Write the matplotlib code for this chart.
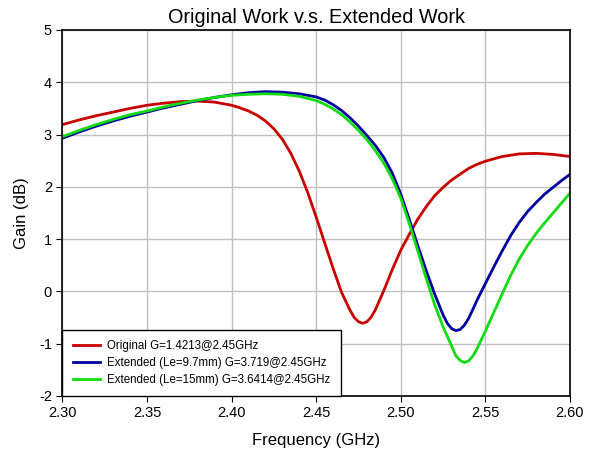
import matplotlib
matplotlib.use("Agg")
import matplotlib.pyplot as plt
from matplotlib.ticker import FormatStrFormatter

plt.rcParams['font.family'] = ['Liberation Sans', 'DejaVu Sans']
plt.rcParams['axes.unicode_minus'] = False

# values
freq_red = [2.30, 2.31, 2.32, 2.33, 2.34, 2.35, 2.36, 2.37, 2.38, 2.39, 2.40,
            2.405, 2.41, 2.415, 2.42, 2.425, 2.43, 2.435, 2.44, 2.445, 2.45,
            2.455, 2.46, 2.465, 2.47, 2.4725, 2.475, 2.4775, 2.48, 2.4825,
            2.485, 2.49, 2.495, 2.50, 2.505, 2.51, 2.515, 2.52, 2.525, 2.53,
            2.535, 2.54, 2.545, 2.55, 2.56, 2.57, 2.58, 2.59, 2.60]
gain_red = [3.19, 3.28, 3.36, 3.43, 3.50, 3.56, 3.60, 3.63, 3.64, 3.62, 3.56,
            3.51, 3.45, 3.37, 3.26, 3.11, 2.91, 2.64, 2.30, 1.89, 1.42,
            0.93, 0.44, -0.02, -0.36, -0.50, -0.58, -0.61, -0.58, -0.49,
            -0.35, 0.02, 0.42, 0.79, 1.09, 1.38, 1.62, 1.83, 1.99, 2.13,
            2.24, 2.35, 2.43, 2.49, 2.58, 2.63, 2.64, 2.62, 2.58]

freq_blue = [2.30, 2.31, 2.32, 2.33, 2.34, 2.35, 2.36, 2.37, 2.38, 2.39, 2.40,
             2.41, 2.42, 2.43, 2.44, 2.45, 2.455, 2.46, 2.465, 2.47, 2.475,
             2.48, 2.485, 2.49, 2.495, 2.50, 2.505, 2.51, 2.515, 2.52, 2.525,
             2.5275, 2.53, 2.5325, 2.535, 2.5375, 2.54, 2.5425, 2.545, 2.55,
             2.555, 2.56, 2.565, 2.57, 2.575, 2.58, 2.585, 2.59, 2.595, 2.60]
gain_blue = [2.93, 3.05, 3.16, 3.26, 3.35, 3.43, 3.51, 3.58, 3.65, 3.71, 3.76,
             3.80, 3.82, 3.81, 3.78, 3.72, 3.66, 3.57, 3.46, 3.32, 3.16,
             2.98, 2.79, 2.56, 2.26, 1.86, 1.38, 0.88, 0.40, -0.05, -0.45,
             -0.61, -0.71, -0.75, -0.73, -0.65, -0.52, -0.35, -0.17, 0.15,
             0.47, 0.78, 1.07, 1.32, 1.53, 1.70, 1.86, 1.99, 2.12, 2.24]

freq_green = [2.30, 2.31, 2.32, 2.33, 2.34, 2.35, 2.36, 2.37, 2.38, 2.39, 2.40,
              2.41, 2.42, 2.43, 2.44, 2.45, 2.455, 2.46, 2.465, 2.47, 2.475,
              2.48, 2.485, 2.49, 2.495, 2.50, 2.505, 2.51, 2.515, 2.52, 2.525,
              2.53, 2.5325, 2.535, 2.5375, 2.54, 2.5425, 2.545, 2.55, 2.555,
              2.56, 2.565, 2.57, 2.575, 2.58, 2.585, 2.59, 2.595, 2.60]
gain_green = [2.96, 3.08, 3.19, 3.29, 3.38, 3.45, 3.53, 3.60, 3.66, 3.71, 3.75,
              3.77, 3.78, 3.77, 3.73, 3.65, 3.58, 3.49, 3.38, 3.24, 3.08,
              2.90, 2.69, 2.45, 2.15, 1.78, 1.30, 0.78, 0.25, -0.25, -0.68,
              -1.04, -1.23, -1.32, -1.36, -1.33, -1.24, -1.10, -0.76, -0.40,
              -0.04, 0.31, 0.62, 0.88, 1.11, 1.31, 1.50, 1.69, 1.88]

labels = ["Original G=1.4213@2.45GHz",
          "Extended (Le=9.7mm) G=3.719@2.45GHz",
          "Extended (Le=15mm) G=3.6414@2.45GHz"]
xticks = [2.30, 2.35, 2.40, 2.45, 2.50, 2.55, 2.60]
yticks = [-2, -1, 0, 1, 2, 3, 4, 5]


def main():
    fig = plt.figure(figsize=(6.0, 4.61), dpi=100)
    ax = fig.add_axes([0.104, 0.141, 0.846, 0.794])

    ax.plot(freq_red, gain_red, color='#c80000', lw=2, label=labels[0])
    ax.plot(freq_blue, gain_blue, color='#0000a0', lw=2, label=labels[1])
    ax.plot(freq_green, gain_green, color='#10dc10', lw=2, label=labels[2])

    ax.set_xlim(2.30, 2.60)
    ax.set_ylim(-2, 5)
    ax.set_xticks(xticks)
    ax.set_yticks(yticks)
    ax.xaxis.set_major_formatter(FormatStrFormatter('%.2f'))
    ax.grid(True, color='#c0c0c0', lw=1)
    ax.set_axisbelow(True)
    ax.tick_params(direction='out', length=4, labelsize=10.5, color='black')
    for s in ax.spines.values():
        s.set_color('black')
        s.set_linewidth(1.2)

    ax.set_title("Original Work v.s. Extended Work", fontsize=14.3, pad=5)
    ax.set_xlabel("Frequency (GHz)", fontsize=12, labelpad=9)
    ax.set_ylabel("Gain (dB)", fontsize=12, labelpad=7)

    leg = ax.legend(loc='lower left', fontsize=8.3, borderaxespad=0,
                    fancybox=False, framealpha=1, handlelength=2.4,
                    handletextpad=0.6, labelspacing=0.42, borderpad=0.9)
    leg.get_frame().set_edgecolor('black')
    leg.get_frame().set_linewidth(1)

    fig.savefig("out.png", dpi=100)


main()
